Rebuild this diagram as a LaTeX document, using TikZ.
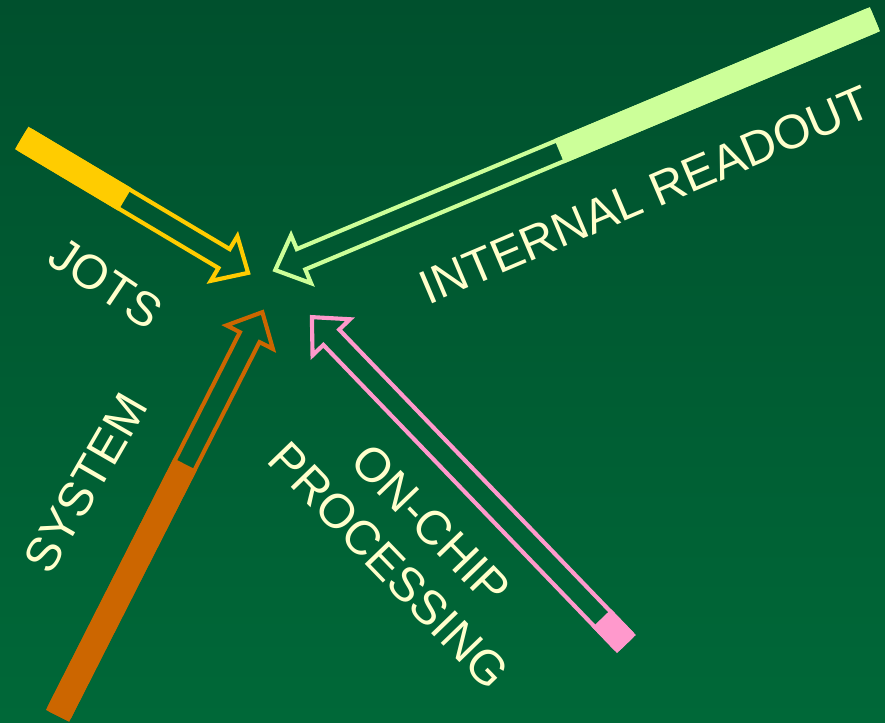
\documentclass[tikz,border=0pt]{standalone}
\usepackage{fontspec}
\setmainfont{Liberation Sans}
\definecolor{boardtop}{RGB}{0,80,45}
\definecolor{boardbot}{RGB}{0,104,56}
\definecolor{chalk}{RGB}{255,255,204}
\definecolor{jotsc}{RGB}{255,204,0}
\definecolor{readc}{RGB}{204,255,153}
\definecolor{sysc}{RGB}{204,102,0}
\definecolor{chipc}{RGB}{255,153,204}

\begin{document}
\begin{tikzpicture}[x=0.75pt,y=0.75pt,line join=miter]
  \tikzstyle{outline}=[line width=3.1pt]
  \tikzstyle{label}=[text=chalk,font=\fontsize{36}{44}\selectfont,inner sep=0pt,align=center]

  \shade[top color=boardtop,bottom color=boardbot] (0,0) rectangle (885,722);
  \useasboundingbox (0,0) rectangle (885,722);

  \foreach \name/\col/\x/\y/\ang/\len/\f in {jots/jotsc/23.5/583/-30.8/261.5/116, readout/readc/873/702/202.7/648/338, system/sysc/58.5/8/63.1/450.6/278, chip/chipc/625/79.5/133.9/451.6/31.5}
  {
    \begin{scope}[shift={(\x,\y)},rotate=\ang,outline,draw=\col]
      \coordinate (T-\name) at (0,0);
      \coordinate (H-\name) at (\len,0);
      \draw (T-\name) ++(0,11) -- ({\len-28},11) -- ({\len-28},26) -- (H-\name)
        -- ({\len-28},-26) -- ({\len-28},-11) -- (0,-11) -- cycle;
      \filldraw[fill=\col] (\f,11) [rounded corners=1.5pt] -- (0,11) -- (0,-11)
        [sharp corners] -- (\f,-11) -- cycle;
    \end{scope}
  }

  \node[label,rotate=-34] (jots) at (106,439) {JOTS};
  \node[label,rotate=23] (readout) at (645,527) {INTERNAL READOUT};
  \node[label,rotate=60] (system) at (86,239) {SYSTEM};
  \node[label,rotate=-46] (chip) at (410,177) {ON-CHIP\\PROCESSING};
\end{tikzpicture}
\end{document}
